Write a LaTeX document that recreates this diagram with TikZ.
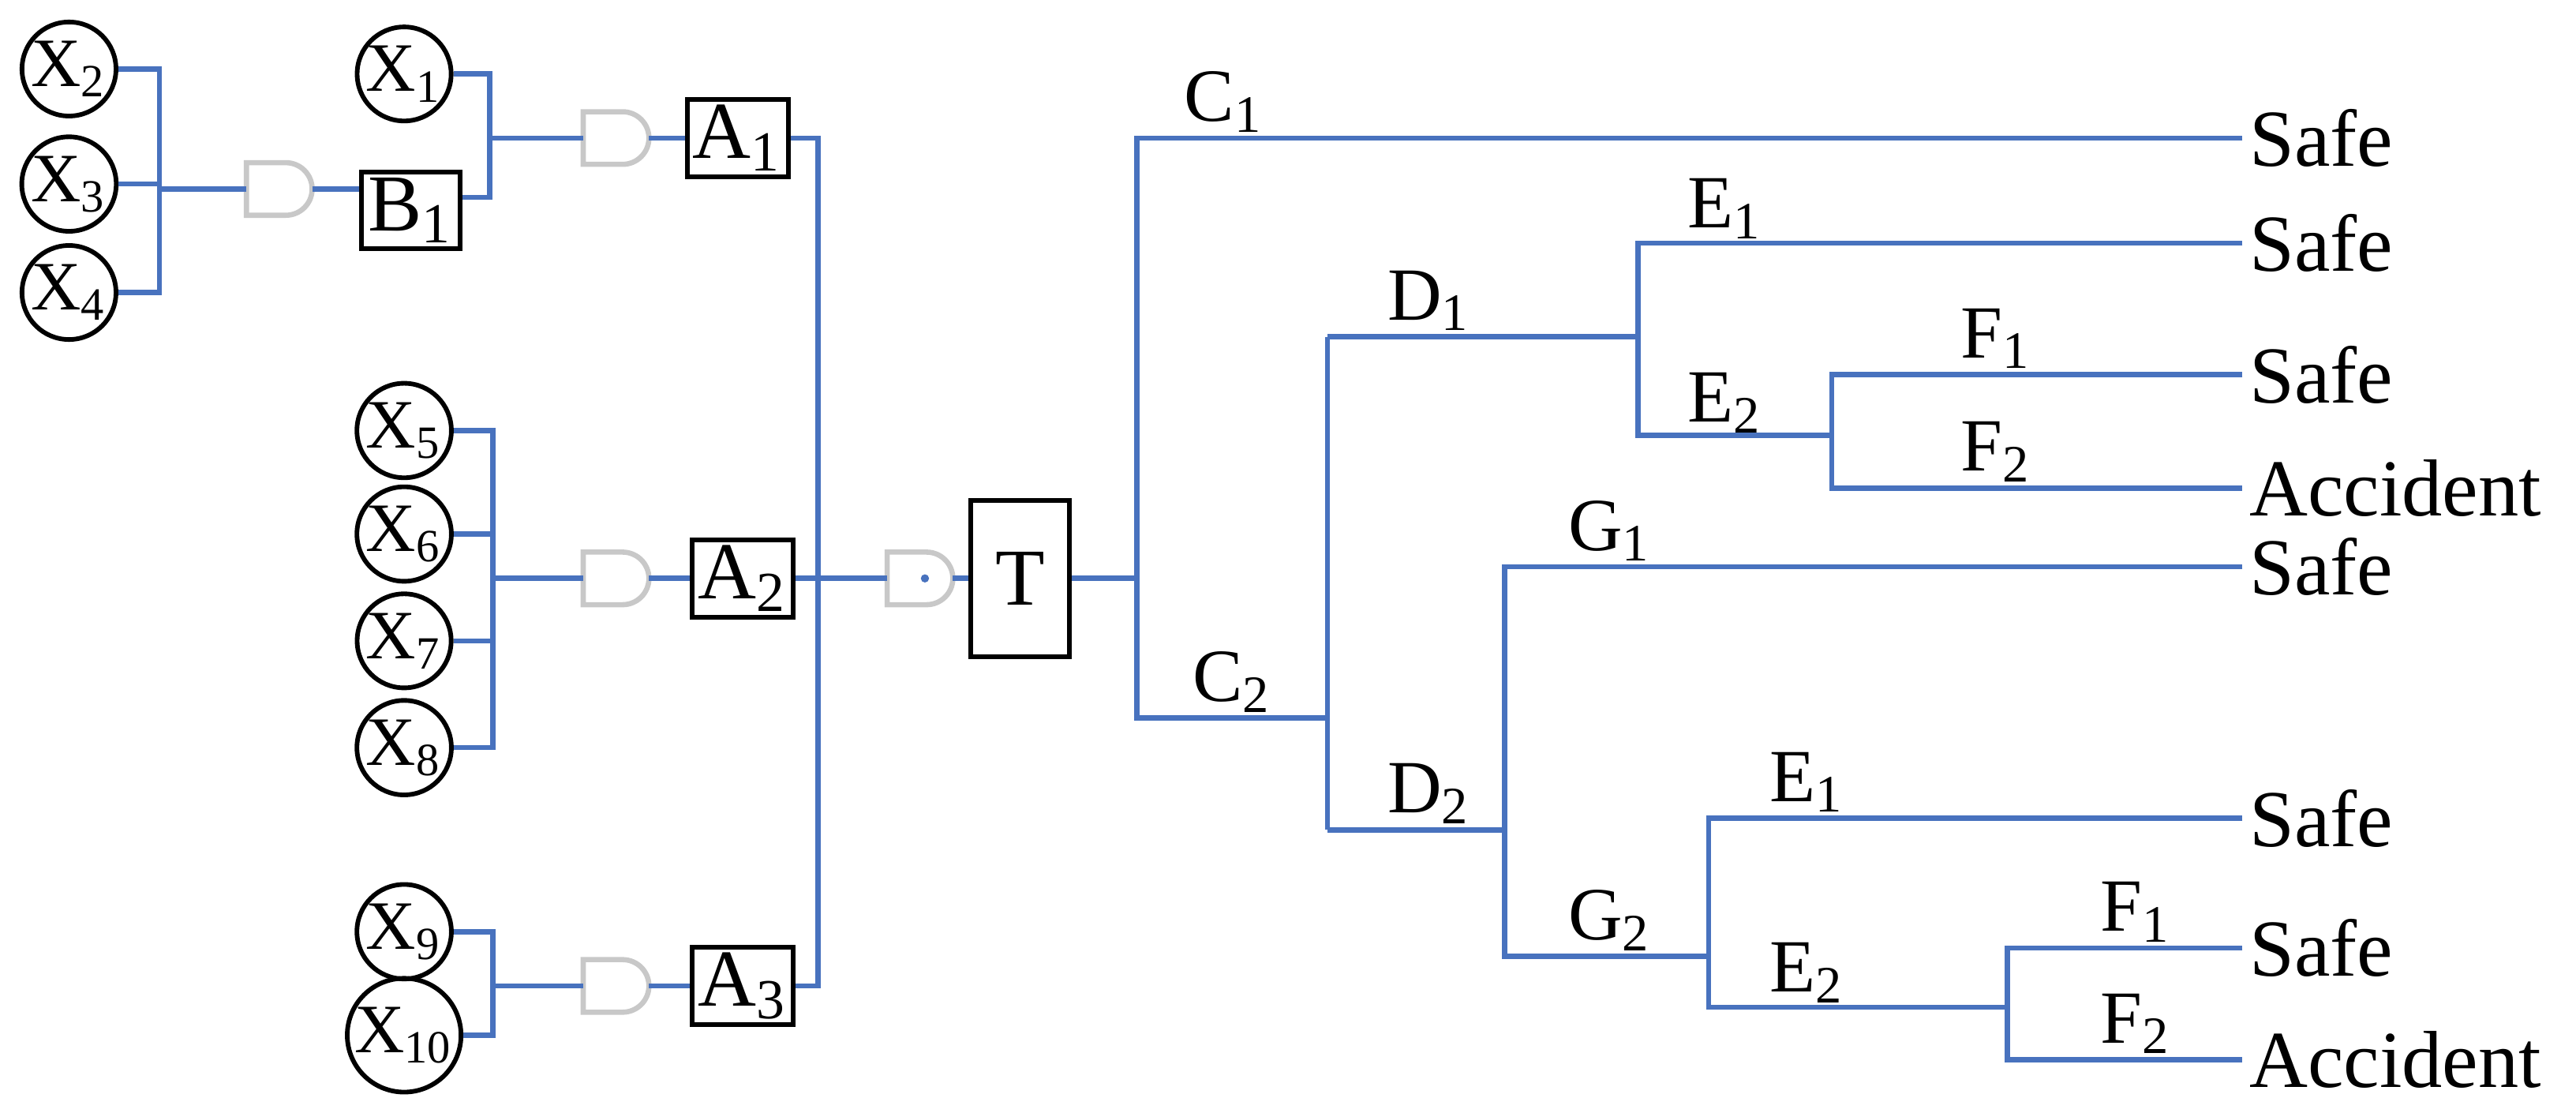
\documentclass[tikz,border=0pt]{standalone}
\usepackage{fontspec}
\setmainfont{Liberation Serif}
\usetikzlibrary{positioning}
\definecolor{wire}{RGB}{72,114,190}
\definecolor{gatec}{RGB}{200,200,200}
\tikzset{
  ev/.style={circle, draw, thick, minimum size=5.6mm, inner sep=0pt, font=\fontsize{12}{14}\selectfont},
  box/.style={rectangle, draw, thick, minimum width=6mm, minimum height=4.4mm, inner sep=1pt, font=\fontsize{14}{16}\selectfont},
  lbl/.style={font=\fontsize{13}{15}\selectfont, inner sep=1pt},
  res/.style={font=\fontsize{14}{16}\selectfont, anchor=west, inner sep=1pt},
  w/.style={wire, line width=0.9pt},
  andg/.pic={
    \draw[gatec, line width=0.9pt] (0,-1.6mm) -- (2.4mm,-1.6mm) arc(-90:90:1.6mm) -- (0,1.6mm) -- cycle;
    \coordinate (-in) at (0,0);
    \coordinate (-out) at (4mm,0);
  }
}
\begin{document}
\begin{tikzpicture}[x=0.1mm,y=-0.1mm]
  \useasboundingbox (0,0) rectangle (1568,677);

  % basic events
  \node[ev] (x2) at (42,42) {X\textsubscript{2}};
  \node[ev] (x3) at (42,112) {X\textsubscript{3}};
  \node[ev] (x4) at (42,178) {X\textsubscript{4}};
  \node[ev] (x1) at (246,45) {X\textsubscript{1}};
  \node[ev] (x5) at (246,262) {X\textsubscript{5}};
  \node[ev] (x6) at (246,325) {X\textsubscript{6}};
  \node[ev] (x7) at (246,390) {X\textsubscript{7}};
  \node[ev] (x8) at (246,455) {X\textsubscript{8}};
  \node[ev] (x9) at (246,567) {X\textsubscript{9}};
  \node[ev] (x10) at (246,630) {X\textsubscript{10}};

  % gates and events
  \pic (g1) at (150,115) {andg};
  \node[box] (b1) at (250,128) {B\textsubscript{1}};
  \pic (g2) at (355,84) {andg};
  \node[box] (a1) at (449,84) {A\textsubscript{1}};
  \pic (g3) at (355,352) {andg};
  \node[box] (a2) at (452,352) {A\textsubscript{2}};
  \pic (g4) at (355,600) {andg};
  \node[box] (a3) at (452,600) {A\textsubscript{3}};
  \pic (g5) at (540,352) {andg};
  \fill[wire] (563,352) circle (0.25mm);
  \node[box, minimum height=9.5mm] (t) at (621,352) {T};

  % fault tree wires
  \draw[w] (x2.east) -| (97,178) -- (x4.east);
  \draw[w] (x3.east) -- (97,112) |- (g1-in);
  \draw[w] (g1-out) -- (b1.west |- g1-out);
  \draw[w] (x1.east) -| (298,120) -- (b1.east |- 0,120);
  \draw[w] (298,84) -- (g2-in);
  \draw[w] (g2-out) -- (a1.west);
  \draw[w] (x5.east) -| (300,455) -- (x8.east);
  \draw[w] (x6.east) -- (300,325);
  \draw[w] (x7.east) -- (300,390);
  \draw[w] (300,352) -- (g3-in);
  \draw[w] (g3-out) -- (a2.west);
  \draw[w] (x9.east) -| (300,630) -- (x10.east);
  \draw[w] (300,600) -- (g4-in);
  \draw[w] (g4-out) -- (a3.west);
  \draw[w] (a1.east) -| (498,600) -- (a3.east);
  \draw[w] (a2.east) -- (g5-in);
  \draw[w] (g5-out) -- (t.west);

  % outcomes
  \node[res] (s1) at (1365,84) {Safe};
  \node[res] (s2) at (1365,148) {Safe};
  \node[res] (s3) at (1365,228) {Safe};
  \node[res] (s4) at (1365,297) {Accident};
  \node[res] (s5) at (1365,345) {Safe};
  \node[res] (s6) at (1365,498) {Safe};
  \node[res] (s7) at (1365,577) {Safe};
  \node[res] (s8) at (1365,645) {Accident};

  % event tree
  \draw[w] (t.east) -- (692,352);
  \draw[w] (s1.west) -| (692,437) -- (808,437);
  \draw[w] (808,205) -- (808,505);
  \draw[w] (808,205) -- (997,205);
  \draw[w] (s2.west) -| (997,265) -- (1115,265);
  \draw[w] (s3.west) -| (1115,297) -- (s4.west);
  \draw[w] (808,505) -- (916,505);
  \draw[w] (s5.west) -| (916,582) -- (1040,582);
  \draw[w] (s6.west) -| (1040,613) -- (1222,613);
  \draw[w] (s7.west) -| (1222,645) -- (s8.west);

  % branch labels
  \node[lbl] (c1) at (745,62) {C\textsubscript{1}};
  \node[lbl] (c2) at (750,415) {C\textsubscript{2}};
  \node[lbl] (d1) at (870,183) {D\textsubscript{1}};
  \node[lbl] (d2) at (870,483) {D\textsubscript{2}};
  \node[lbl] (e1) at (1050,127) {E\textsubscript{1}};
  \node[lbl] (e2) at (1050,245) {E\textsubscript{2}};
  \node[lbl] (f1) at (1215,206) {F\textsubscript{1}};
  \node[lbl] (f2) at (1215,275) {F\textsubscript{2}};
  \node[lbl] (g1l) at (980,323) {G\textsubscript{1}};
  \node[lbl] (g2l) at (980,560) {G\textsubscript{2}};
  \node[lbl] (e3) at (1100,476) {E\textsubscript{1}};
  \node[lbl] (e4) at (1100,592) {E\textsubscript{2}};
  \node[lbl] (f3) at (1300,555) {F\textsubscript{1}};
  \node[lbl] (f4) at (1300,623) {F\textsubscript{2}};
\end{tikzpicture}
\end{document}
